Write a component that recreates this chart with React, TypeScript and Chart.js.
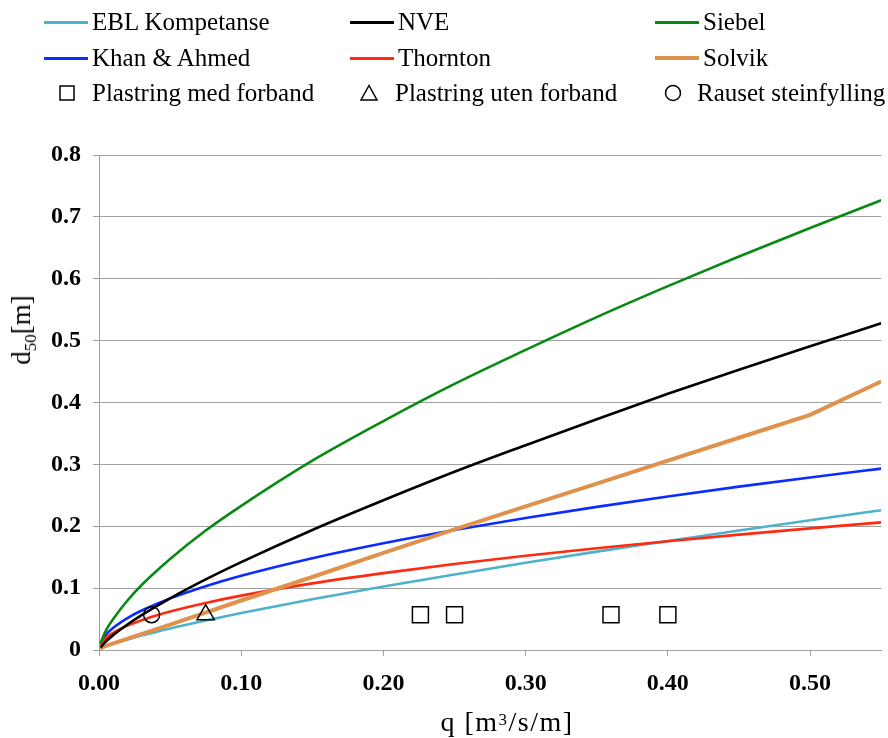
import React, { useEffect, useRef } from 'react';
import { Chart, registerables } from 'chart.js';

Chart.register(...registerables);

// q values [m3/s/m] at which the curves were read
const Q_CURVE = [0.001, 0.005, 0.01, 0.02, 0.03, 0.05, 0.075, 0.1, 0.15, 0.2, 0.25, 0.3, 0.35, 0.4, 0.45, 0.5, 0.55];
const EBL = [0.0016, 0.0058, 0.0099, 0.017, 0.0234, 0.0348, 0.0477, 0.0598, 0.082, 0.1026, 0.122, 0.141, 0.159, 0.176, 0.193, 0.2096, 0.226];
const KHAN = [0.0107, 0.025, 0.0359, 0.0516, 0.0638, 0.0834, 0.1032, 0.12, 0.1484, 0.1726, 0.194, 0.2134, 0.2313, 0.248, 0.264, 0.2789, 0.2931];
const NVE = [0.0041, 0.0142, 0.0241, 0.0412, 0.0563, 0.0834, 0.114, 0.142, 0.194, 0.242, 0.288, 0.331, 0.373, 0.414, 0.453, 0.491, 0.528];
const THORNTON = [0.0088, 0.0197, 0.0278, 0.0393, 0.0482, 0.0622, 0.0761, 0.0879, 0.1077, 0.1243, 0.139, 0.1523, 0.1645, 0.1758, 0.1865, 0.1966, 0.2062];
const SIEBEL = [0.0108, 0.032, 0.05, 0.08, 0.105, 0.147, 0.193, 0.233, 0.306, 0.37, 0.43, 0.485, 0.538, 0.588, 0.636, 0.682, 0.727];
const Q_SOLVIK = [0, 0.05, 0.1, 0.15, 0.2, 0.25, 0.3, 0.35, 0.4, 0.45, 0.5, 0.55];
const SOLVIK = [0.003, 0.041, 0.08, 0.118, 0.157, 0.195, 0.232, 0.269, 0.306, 0.343, 0.38, 0.434];

// observations
const Q_MED = [0.226, 0.25, 0.36, 0.4];
const D_MED = [0.057, 0.057, 0.057, 0.057];
const Q_UTEN = [0.075];
const D_UTEN = [0.057];
const Q_RAUSET = [0.037];
const D_RAUSET = [0.057];

const X_TICKS = [0, 0.1, 0.2, 0.3, 0.4, 0.5];

const FONT = "'Liberation Serif', 'Times New Roman', serif";

const C_EBL = '#4db2cc';
const C_KHAN = '#0a2cff';
const C_NVE = '#000000';
const C_THORNTON = '#ff2a10';
const C_SIEBEL = '#078a12';
const C_SOLVIK = '#e0914c';

const pts = (xs: number[], ys: number[]) => xs.map((x, i) => ({ x, y: ys[i] }));

function lineDs(label: string, xs: number[], ys: number[], color: string, width: number, smooth: boolean) {
  return {
    label,
    data: pts(xs, ys),
    showLine: true,
    borderColor: color,
    backgroundColor: color,
    borderWidth: width,
    pointRadius: 0,
    cubicInterpolationMode: smooth ? 'monotone' : 'default',
    tension: 0,
  } as any;
}

function markerDs(label: string, xs: number[], ys: number[], style: string, radius: number) {
  return {
    label,
    data: pts(xs, ys),
    showLine: false,
    pointStyle: style,
    pointRadius: radius,
    pointBorderColor: '#000',
    pointBackgroundColor: 'rgba(0,0,0,0)',
    pointBorderWidth: 1.5,
  } as any;
}

const LEGEND_LINES = [
  { label: 'EBL Kompetanse', color: C_EBL, x: 44, y: 22, w: 3 },
  { label: 'NVE', color: C_NVE, x: 350, y: 22, w: 3 },
  { label: 'Siebel', color: C_SIEBEL, x: 655, y: 22, w: 3 },
  { label: 'Khan & Ahmed', color: C_KHAN, x: 44, y: 58, w: 3 },
  { label: 'Thornton', color: C_THORNTON, x: 350, y: 58, w: 3 },
  { label: 'Solvik', color: C_SOLVIK, x: 655, y: 58, w: 4 },
];

const LEGEND_MARKERS = [
  { label: 'Plastring med forband', shape: 'square', x: 67, tx: 92, y: 93 },
  { label: 'Plastring uten forband', shape: 'triangle', x: 369, tx: 395, y: 93 },
  { label: 'Rauset steinfylling', shape: 'circle', x: 673, tx: 697, y: 93 },
];

const CANVAS_W = 894;
const CANVAS_H = 738;

function MarkerIcon({ shape }: { shape: string }) {
  return (
    <svg width={20} height={20} viewBox="0 0 20 20" style={{ display: 'block' }}>
      {shape === 'square' && <rect x={3} y={3} width={14} height={14} fill="none" stroke="#000" strokeWidth={1.5} />}
      {shape === 'triangle' && <polygon points="10,2.5 18,17 2,17" fill="none" stroke="#000" strokeWidth={1.5} />}
      {shape === 'circle' && <circle cx={10} cy={10} r={7.5} fill="none" stroke="#000" strokeWidth={1.5} />}
    </svg>
  );
}

export default function App() {
  const canvasRef = useRef<HTMLCanvasElement | null>(null);

  useEffect(() => {
    const canvas = canvasRef.current;
    if (!canvas) return;
    const chart = new Chart(canvas, {
      type: 'scatter',
      data: {
        datasets: [
          markerDs('Plastring med forband', Q_MED, D_MED, 'rect', 11.3),
          markerDs('Plastring uten forband', Q_UTEN, D_UTEN, 'triangle', 10),
          markerDs('Rauset steinfylling', Q_RAUSET, D_RAUSET, 'circle', 8),
          lineDs('NVE', Q_CURVE, NVE, C_NVE, 2.6, true),
          lineDs('Siebel', Q_CURVE, SIEBEL, C_SIEBEL, 2.6, true),
          lineDs('Solvik', Q_SOLVIK, SOLVIK, C_SOLVIK, 4, false),
          lineDs('Thornton', Q_CURVE, THORNTON, C_THORNTON, 2.6, true),
          lineDs('Khan & Ahmed', Q_CURVE, KHAN, C_KHAN, 2.6, true),
          lineDs('EBL Kompetanse', Q_CURVE, EBL, C_EBL, 2.6, true),
        ],
      },
      options: {
        animation: false,
        responsive: false,
        maintainAspectRatio: false,
        layout: { padding: { left: 0, right: 1, top: 155, bottom: 0 } },
        plugins: { legend: { display: false }, tooltip: { enabled: false } },
        scales: {
          x: {
            type: 'linear',
            min: 0,
            max: 0.55,
            afterBuildTicks: (s: any) => {
              s.ticks = X_TICKS.map((v) => ({ value: v }));
            },
            ticks: {
              callback: (v: any) => Number(v).toFixed(2),
              font: { family: FONT, size: 24, weight: 'bold' },
              color: '#000',
              padding: 13,
              maxRotation: 0,
              autoSkip: false,
            },
            grid: { display: true, drawOnChartArea: false, drawTicks: true, tickLength: 6, color: '#a0a0a0', lineWidth: 1 },
            border: { display: true, color: '#a0a0a0', width: 1 },
            afterFit: (s: any) => {
              s.height = 88;
              s.paddingRight = 0;
              s.paddingLeft = 0;
            },
          },
          y: {
            type: 'linear',
            min: 0,
            max: 0.8,
            ticks: {
              stepSize: 0.1,
              callback: (v: any) => (Math.abs(Number(v)) < 1e-9 ? '0' : Number(v).toFixed(1)),
              font: { family: FONT, size: 24, weight: 'bold' },
              color: '#000',
              padding: 12,
            },
            grid: { display: true, drawTicks: true, tickLength: 6, color: '#a0a0a0', lineWidth: 1 },
            border: { display: true, color: '#a0a0a0', width: 1 },
            afterFit: (s: any) => {
              s.width = 99;
            },
          },
        },
      } as any,
    });
    return () => chart.destroy();
  }, []);

  return (
    <div style={{ position: 'absolute', left: 0, top: 0, width: 888, height: 738, background: '#fff', fontFamily: FONT, overflow: 'hidden' }}>
      <canvas ref={canvasRef} width={CANVAS_W} height={CANVAS_H} style={{ position: 'absolute', left: 0, top: 0, width: CANVAS_W, height: CANVAS_H }} />
      {LEGEND_LINES.map((it) => (
        <React.Fragment key={it.label}>
          <div style={{ position: 'absolute', left: it.x, top: it.y - it.w / 2, width: 44, height: it.w, background: it.color }} />
          <div style={{ position: 'absolute', left: it.x + 48, top: it.y - 15, height: 30, lineHeight: '30px', fontSize: 25, whiteSpace: 'nowrap', color: '#000' }}>
            {it.label}
          </div>
        </React.Fragment>
      ))}
      {LEGEND_MARKERS.map((it) => (
        <React.Fragment key={it.label}>
          <div style={{ position: 'absolute', left: it.x - 10, top: it.y - 10 }}>
            <MarkerIcon shape={it.shape} />
          </div>
          <div style={{ position: 'absolute', left: it.tx, top: it.y - 15, height: 30, lineHeight: '30px', fontSize: 25, whiteSpace: 'nowrap', color: '#000' }}>
            {it.label}
          </div>
        </React.Fragment>
      ))}
      <div
        style={{
          position: 'absolute',
          left: 23,
          top: 330,
          transform: 'translate(-50%, -50%) rotate(-90deg)',
          whiteSpace: 'nowrap',
          fontSize: 27,
          lineHeight: '30px',
        }}
      >
        d<span style={{ fontSize: 17, position: 'relative', top: 6 }}>50</span>[m]
      </div>
      <div
        style={{
          position: 'absolute',
          left: 507,
          top: 722,
          transform: 'translate(-50%, -50%)',
          whiteSpace: 'nowrap',
          fontSize: 28,
          letterSpacing: 1.5,
          lineHeight: '30px',
        }}
      >
        q [m<sup style={{ fontSize: 17, verticalAlign: 'top', position: 'relative', top: -2 }}>3</sup>/s/m]
      </div>
    </div>
  );
}
